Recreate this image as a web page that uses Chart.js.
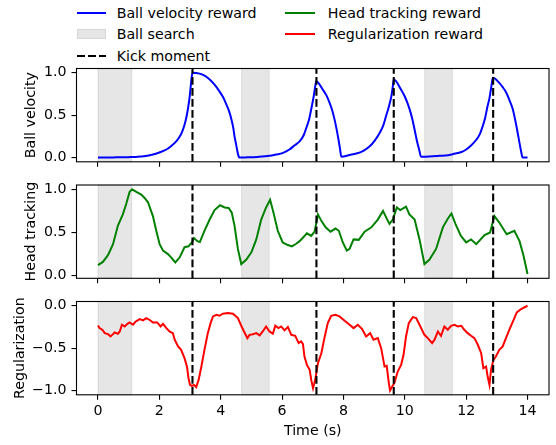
<!DOCTYPE html>
<html>
<head>
<meta charset="utf-8">
<script src="https://cdn.jsdelivr.net/npm/chart.js@4.4.1/dist/chart.umd.min.js"></script>
<style>
  body { margin: 0; background: #fff; font-family: 'DejaVu Sans', sans-serif; }
  #wrap { position: relative; width: 556px; height: 445px; overflow: hidden; }
  canvas { position: absolute; left: 0; }
  .legend-item { position: absolute; height: 20px; display: flex; align-items: center; font-size: 14.2px; color: #000; white-space: nowrap; }
  .swatch { width: 29.5px; flex: none; }
</style>
</head>
<body>
<div id="wrap">
  <div id="legend"></div>
  <canvas id="velChart" width="556" height="112" style="top:58px"></canvas>
  <canvas id="headChart" width="556" height="112" style="top:175px"></canvas>
  <canvas id="regChart" width="556" height="154" style="top:291px"></canvas>
</div>
<script>
// shared time axis
const xTicks = [0, 2, 4, 6, 8, 10, 12, 14];
const xMin = -0.7;
const xMax = 14.7;

// ball search windows and kick moments (s)
const searchStart = [0, 4.68, 10.65];
const searchEnd = [1.1, 5.58, 11.55];
const kickTimes = [3.08, 7.12, 9.64, 12.88];

// ball velocity reward
const velTime = [0, 0.5, 1.0, 1.25, 1.5, 1.79, 2.0, 2.23, 2.4, 2.55, 2.67, 2.77, 2.86, 2.93, 2.99, 3.04, 3.08,
  3.31, 3.5, 3.64, 3.8, 3.96, 4.08, 4.18, 4.27, 4.35, 4.41, 4.45, 4.5, 4.54, 4.58, 4.6,
  4.8, 5.2, 5.59, 5.8, 6.03, 6.24, 6.41, 6.57, 6.7, 6.79, 6.88, 6.95, 7.03, 7.09, 7.11,
  7.33, 7.45, 7.55, 7.64, 7.71, 7.78, 7.84, 7.89, 7.93,
  8.2, 8.42, 8.65, 8.85, 9.02, 9.18, 9.3, 9.39, 9.48, 9.56, 9.61, 9.64,
  9.88, 10.0, 10.1, 10.19, 10.26, 10.33, 10.4, 10.47, 10.53,
  10.8, 11.13, 11.41, 11.56, 11.85, 12.0, 12.15, 12.33, 12.45, 12.54, 12.62, 12.7, 12.76, 12.83, 12.87,
  13.08, 13.19, 13.3, 13.43, 13.52, 13.6, 13.68, 13.75, 13.79, 13.84, 14.0];
const velValues = [0.0, 0.002, 0.005, 0.008, 0.015, 0.035, 0.06, 0.095, 0.14, 0.19, 0.25, 0.33, 0.44, 0.57, 0.72, 0.9, 1.0,
  0.99, 0.96, 0.92, 0.86, 0.78, 0.71, 0.63, 0.55, 0.45, 0.35, 0.25, 0.16, 0.08, 0.02, 0.0,
  0.002, 0.008, 0.02, 0.035, 0.055, 0.095, 0.145, 0.19, 0.26, 0.35, 0.45, 0.57, 0.72, 0.86, 0.9,
  0.8, 0.73, 0.645, 0.55, 0.45, 0.33, 0.21, 0.1, 0.01,
  0.03, 0.047, 0.08, 0.13, 0.2, 0.29, 0.38, 0.49, 0.6, 0.72, 0.84, 0.92,
  0.8, 0.72, 0.63, 0.53, 0.43, 0.31, 0.19, 0.09, 0.01,
  0.012, 0.02, 0.028, 0.04, 0.065, 0.095, 0.14, 0.21, 0.28, 0.37, 0.47, 0.61, 0.7, 0.86, 0.94,
  0.88, 0.83, 0.77, 0.66, 0.57, 0.44, 0.29, 0.15, 0.074, 0.0, 0.0];

// head tracking reward
const headTime = [0, 0.16, 0.33, 0.49, 0.65, 0.81, 0.92, 1.03, 1.11, 1.25, 1.41, 1.52, 1.63, 1.79, 1.9, 2.01,
  2.12, 2.28, 2.39, 2.52, 2.66, 2.82, 2.95, 3.06, 3.13, 3.24, 3.32, 3.47, 3.64, 3.8, 3.98, 4.13,
  4.26, 4.36, 4.45, 4.56, 4.67, 4.83, 5.0, 5.16, 5.32, 5.48, 5.61, 5.72, 5.86, 6.02, 6.19, 6.32,
  6.46, 6.57, 6.68, 6.81, 6.95, 7.06, 7.17, 7.28, 7.42, 7.58, 7.74, 7.85, 7.98, 8.11, 8.2, 8.33,
  8.5, 8.69, 8.91, 9.12, 9.29, 9.4, 9.5, 9.61, 9.74, 9.85, 10.04, 10.15, 10.32, 10.48, 10.64, 10.8,
  11.02, 11.24, 11.4, 11.52, 11.65, 11.83, 12.0, 12.16, 12.33, 12.6, 12.78, 12.92, 13.08, 13.32,
  13.57, 13.74, 13.87, 14.0];
const headValues = [0.123, 0.16, 0.24, 0.365, 0.58, 0.71, 0.83, 0.97, 1.0, 0.97, 0.94, 0.9, 0.85, 0.69, 0.52, 0.365,
  0.29, 0.25, 0.21, 0.154, 0.21, 0.33, 0.34, 0.385, 0.435, 0.4, 0.39, 0.52, 0.65, 0.76, 0.815, 0.79,
  0.785, 0.73, 0.58, 0.31, 0.135, 0.185, 0.27, 0.42, 0.65, 0.79, 0.88, 0.73, 0.52, 0.385, 0.355, 0.34,
  0.37, 0.4, 0.44, 0.49, 0.46, 0.51, 0.71, 0.635, 0.56, 0.51, 0.546, 0.52, 0.385, 0.29, 0.31, 0.42,
  0.415, 0.51, 0.56, 0.65, 0.75, 0.67, 0.6, 0.65, 0.79, 0.76, 0.8, 0.71, 0.65, 0.42, 0.135, 0.185,
  0.31, 0.56, 0.66, 0.72, 0.6, 0.46, 0.385, 0.42, 0.365, 0.47, 0.5, 0.69, 0.615, 0.48,
  0.52, 0.4, 0.23, 0.02];

// regularization reward
const regTime = [0, 0.05, 0.11, 0.16, 0.22, 0.33, 0.41, 0.49, 0.54, 0.65, 0.71, 0.78, 0.87, 0.96, 1.03, 1.14,
  1.22, 1.36, 1.47, 1.57, 1.68, 1.79, 1.93, 2.04, 2.12, 2.23, 2.33, 2.44, 2.5, 2.61, 2.71, 2.82,
  2.9, 2.95, 3.0, 3.06, 3.13, 3.2, 3.28, 3.37, 3.47, 3.58, 3.67, 3.75, 3.86, 3.96, 4.07, 4.23,
  4.4, 4.56, 4.67, 4.76, 4.87, 4.94, 5.05, 5.16, 5.27, 5.37, 5.48, 5.59, 5.7, 5.78, 5.88, 5.97,
  6.08, 6.19, 6.3, 6.43, 6.54, 6.62, 6.68, 6.73, 6.81, 6.9, 6.95, 7.01, 7.08, 7.17, 7.28, 7.38,
  7.49, 7.6, 7.74, 7.87, 8.03, 8.2, 8.33, 8.47, 8.61, 8.74, 8.87, 8.98, 9.12, 9.23, 9.34, 9.41,
  9.48, 9.52, 9.59, 9.66, 9.77, 9.88, 9.96, 10.04, 10.13, 10.26, 10.37, 10.48, 10.64, 10.75, 10.89, 10.97,
  11.08, 11.18, 11.29, 11.4, 11.51, 11.62, 11.73, 11.84, 11.94, 12.05, 12.16, 12.27, 12.38, 12.49, 12.56, 12.65,
  12.7, 12.76, 12.81, 12.89, 12.97, 13.08, 13.19, 13.32, 13.43, 13.54, 13.65, 13.79, 14.0];
const regValues = [-0.232, -0.264, -0.276, -0.29, -0.323, -0.335, -0.362, -0.335, -0.315, -0.33, -0.303, -0.224, -0.244, -0.213, -0.197, -0.224,
  -0.189, -0.157, -0.173, -0.146, -0.165, -0.197, -0.197, -0.244, -0.213, -0.264, -0.303, -0.323, -0.4, -0.48, -0.52, -0.618,
  -0.717, -0.854, -0.933, -0.945, -0.933, -0.96, -0.874, -0.717, -0.52, -0.323, -0.205, -0.126, -0.106, -0.118, -0.094, -0.087,
  -0.094, -0.146, -0.236, -0.303, -0.382, -0.343, -0.335, -0.323, -0.35, -0.303, -0.244, -0.303, -0.33, -0.236, -0.264, -0.244,
  -0.29, -0.25, -0.343, -0.354, -0.44, -0.42, -0.45, -0.6, -0.697, -0.756, -0.874, -0.972, -0.874, -0.677, -0.56, -0.382,
  -0.205, -0.118, -0.106, -0.126, -0.173, -0.224, -0.264, -0.224, -0.276, -0.362, -0.323, -0.4, -0.382, -0.5, -0.717, -0.709,
  -0.913, -1.0, -0.953, -0.913, -0.776, -0.697, -0.579, -0.362, -0.205, -0.134, -0.146, -0.224, -0.343, -0.382, -0.441, -0.4,
  -0.303, -0.354, -0.244, -0.283, -0.236, -0.224, -0.244, -0.236, -0.283, -0.323, -0.354, -0.382, -0.46, -0.559, -0.736, -0.717,
  -0.835, -0.933, -0.756, -0.638, -0.598, -0.52, -0.48, -0.362, -0.264, -0.173, -0.079, -0.039, 0.0];

const velTicks = [0, 0.5, 1];
const headTicks = [0, 0.5, 1];
const regTicks = [-1, -0.5, 0];

Chart.defaults.font.family = "'DejaVu Sans', sans-serif";
Chart.defaults.font.size = 14.2;
Chart.defaults.color = "#000";

// grey search windows, dashed kick lines and the full axes frame
const eventMarks = {
  id: "eventMarks",
  beforeDatasetsDraw(chart) {
    const { ctx, chartArea: a, scales } = chart;
    ctx.save();
    ctx.fillStyle = "rgba(128,128,128,0.2)";
    ctx.strokeStyle = "rgba(128,128,128,0.2)";
    ctx.lineWidth = 1;
    searchStart.forEach((s, i) => {
      const x0 = scales.x.getPixelForValue(s);
      const x1 = scales.x.getPixelForValue(searchEnd[i]);
      ctx.fillRect(x0, a.top, x1 - x0, a.bottom - a.top);
      ctx.strokeRect(x0, a.top, x1 - x0, a.bottom - a.top);
    });
    ctx.restore();
  },
  afterDatasetsDraw(chart) {
    const { ctx, chartArea: a, scales } = chart;
    ctx.save();
    ctx.strokeStyle = "#000";
    ctx.lineWidth = 2.1;
    ctx.setLineDash([7.7, 3.3]);
    kickTimes.forEach((k) => {
      const x = scales.x.getPixelForValue(k);
      ctx.beginPath();
      ctx.moveTo(x, a.bottom);
      ctx.lineTo(x, a.top);
      ctx.stroke();
    });
    ctx.restore();
  },
  afterDraw(chart) {
    const { ctx, chartArea: a } = chart;
    ctx.save();
    ctx.strokeStyle = "#000";
    ctx.lineWidth = 1.1;
    ctx.strokeRect(a.left, a.top, a.right - a.left, a.bottom - a.top);
    ctx.restore();
  },
};

function fmtTick(v) {
  return v.toFixed(1).replace("-", "\u2212");
}

function makePanel(id, times, values, color, yMin, yMax, yTicks, yTitle, titlePad, padTop, xHeight, isBottom, smooth) {
  const ctx = document.getElementById(id).getContext("2d");
  return new Chart(ctx, {
    type: "line",
    data: {
      datasets: [
        {
          data: times.map((t, i) => ({ x: t, y: values[i] })),
          borderColor: color,
          borderWidth: 2,
          pointRadius: 0,
          tension: 0,
          cubicInterpolationMode: smooth ? "monotone" : "default",
        },
      ],
    },
    options: {
      responsive: false,
      animation: false,
      events: [],
      layout: { autoPadding: false, padding: { top: padTop, right: 7, bottom: 0, left: 0 } },
      plugins: { legend: { display: false }, tooltip: { enabled: false } },
      scales: {
        x: {
          type: "linear",
          min: xMin,
          max: xMax,
          afterBuildTicks: (axis) => {
            axis.ticks = xTicks.map((v) => ({ value: v }));
          },
          afterFit: (axis) => {
            axis.height = xHeight;
            axis.paddingLeft = 0;
            axis.paddingRight = 0;
          },
          border: { display: false },
          grid: { drawOnChartArea: false, drawTicks: true, tickLength: 5, color: "#000", lineWidth: 1.1 },
          ticks: { display: isBottom, padding: 3, maxRotation: 0, callback: (v) => String(v) },
          title: { display: isBottom, text: "Time (s)", padding: { top: 0, bottom: 4.7 } },
        },
        y: {
          min: yMin,
          max: yMax,
          afterBuildTicks: (axis) => {
            axis.ticks = yTicks.map((v) => ({ value: v }));
          },
          afterFit: (axis) => {
            axis.width = 76.5;
            axis.paddingTop = 0;
            axis.paddingBottom = 0;
          },
          border: { display: false },
          grid: { drawOnChartArea: false, drawTicks: true, tickLength: 5, color: "#000", lineWidth: 1.1 },
          ticks: { padding: 5, callback: (v) => fmtTick(v) },
          title: { display: true, text: yTitle, padding: { top: titlePad, bottom: 0 } },
        },
      },
    },
    plugins: [eventMarks],
  });
}

const velChart = makePanel("velChart", velTime, velValues, "#0000ff", -0.05, 1.05, velTicks, "Ball velocity", 22.5, 10.5, 8.2, false, true);
const headChart = makePanel("headChart", headTime, headValues, "#008000", -0.03, 1.05, headTicks, "Head tracking", 22.5, 10, 8.7, false, false);
const regChart = makePanel("regChart", regTime, regValues, "#ff0000", -1.05, 0.05, regTicks, "Regularization", 11.4, 10.5, 50.2, true, false);

// legend, two columns like the original figure
const legendItems = [
  { label: "Ball velocity reward", kind: "line", color: "#0000ff", left: 76.7, row: 0 },
  { label: "Ball search", kind: "patch", color: "rgba(128,128,128,0.2)", left: 76.7, row: 1 },
  { label: "Kick moment", kind: "dash", color: "#000", left: 76.7, row: 2 },
  { label: "Head tracking reward", kind: "line", color: "#008000", left: 285, row: 0 },
  { label: "Regularization reward", kind: "line", color: "#ff0000", left: 285, row: 1 },
];
const rowCenters = [13.3, 34.3, 56];
const legendBox = document.getElementById("legend");
legendItems.forEach((item) => {
  const el = document.createElement("div");
  el.className = "legend-item";
  el.style.left = item.left + "px";
  el.style.top = rowCenters[item.row] - 10 + "px";
  const sw = document.createElement("div");
  sw.className = "swatch";
  if (item.kind === "line") {
    sw.style.height = "2px";
    sw.style.background = item.color;
  } else if (item.kind === "patch") {
    sw.style.height = "10px";
    sw.style.background = item.color;
    sw.style.boxShadow = "inset 0 0 0 1px rgba(128,128,128,0.15)";
  } else {
    sw.style.height = "2px";
    sw.style.background = "repeating-linear-gradient(to right, #000 0 7.7px, transparent 7.7px 11px)";
  }
  const txt = document.createElement("span");
  txt.textContent = item.label;
  txt.style.marginLeft = (item.left > 200 ? 13.3 : 10.5) + "px";
  el.appendChild(sw);
  el.appendChild(txt);
  legendBox.appendChild(el);
});
</script>
</body>
</html>
